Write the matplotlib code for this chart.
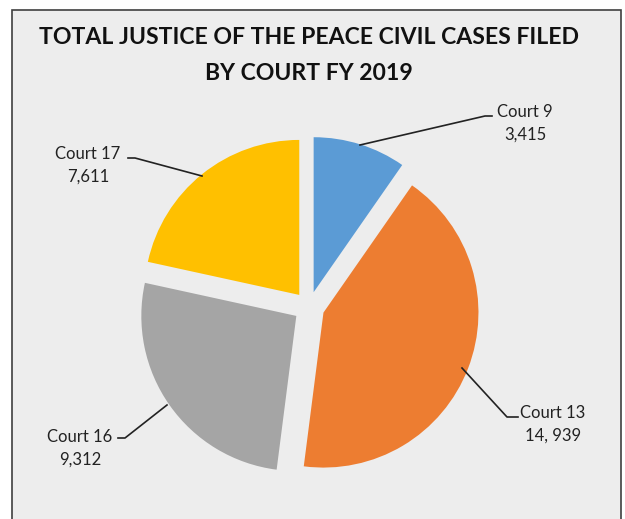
import matplotlib.pyplot as plt
from matplotlib.patches import Rectangle

# data
courts = ['Court 9', 'Court 13', 'Court 16', 'Court 17']
cases = [3415, 14939, 9312, 7611]
value_labels = ['3,415', '14, 939', '9,312', '7,611']
colors = ['#5B9BD5', '#ED7D31', '#A5A5A5', '#FFC000']

W, H = 625, 519
plt.rcParams['font.family'] = ['Lato', 'DejaVu Sans']

fig = plt.figure(figsize=(W / 100, H / 100), dpi=100)
fig.patch.set_facecolor('white')
ax = fig.add_axes([0, 0, 1, 1])

def py(y):
    # pixel row -> data y
    return H - y

# chart frame
ax.add_patch(Rectangle((12, -20), 609, py(10) + 20, facecolor='#EDEDED',
                       edgecolor='#404040', linewidth=1.2, zorder=0))

# explode is in data units here (pixels)
ax.pie(cases, colors=colors, startangle=90, counterclock=False,
       explode=[15.5] * 4, radius=155, center=(309, py(307)), frame=True,
       wedgeprops=dict(linewidth=0))
ax.set_xlim(0, W)
ax.set_ylim(0, H)
ax.set_aspect('auto')
ax.axis('off')

ax.text(309, py(38), 'TOTAL JUSTICE OF THE PEACE CIVIL CASES FILED',
        ha='center', va='center', fontsize=16.6, fontweight='bold', color='#111111')
ax.text(309, py(73), 'BY COURT FY 2019',
        ha='center', va='center', fontsize=16.6, fontweight='bold', color='#111111')

# labels and leader lines
label_pos = [(525, 112), (553, 413), (80, 437), (88, 154)]
leaders = [
    [(360, 145), (485, 116), (492, 116)],
    [(462, 368), (507, 417), (518, 417)],
    [(167, 405), (125, 438), (118, 438)],
    [(202, 176), (135, 158), (128, 158)],
]
for name, val, (lx, ly), pts in zip(courts, value_labels, label_pos, leaders):
    ax.text(lx, py(ly), name, ha='center', va='center', fontsize=12, color='#222222')
    ax.text(lx, py(ly + 23), val, ha='center', va='center', fontsize=12, color='#222222')
    ax.plot([p[0] for p in pts], [py(p[1]) for p in pts], color='#222222', linewidth=1.2)

fig.savefig('out.png', dpi=100)
